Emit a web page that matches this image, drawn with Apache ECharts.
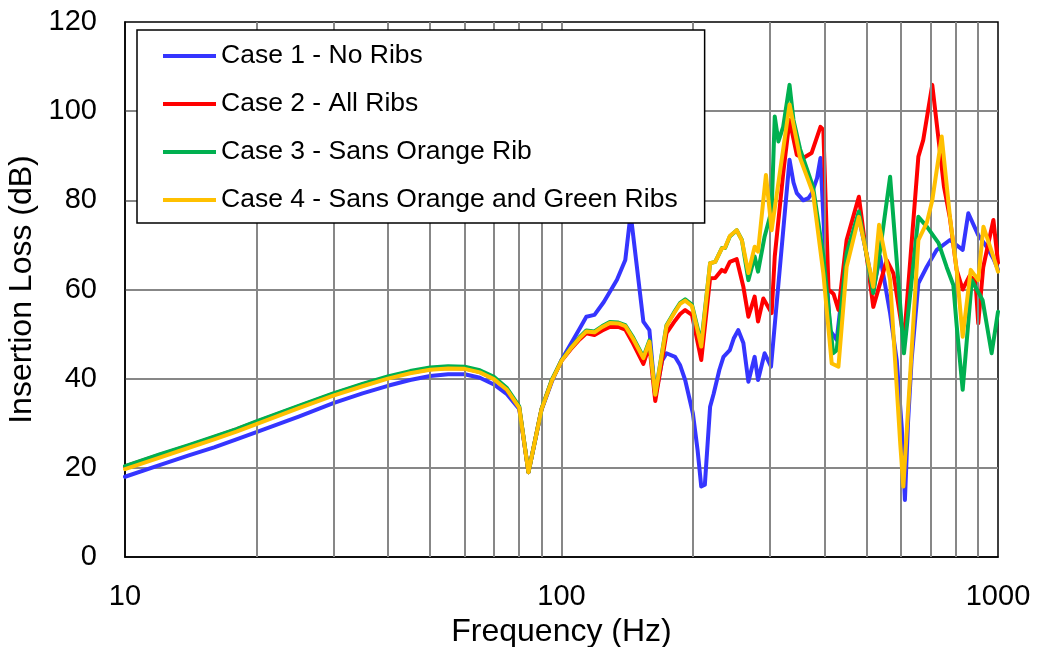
<!DOCTYPE html>
<html>
<head>
<meta charset="utf-8">
<title>Insertion Loss</title>
<script src="https://cdn.jsdelivr.net/npm/echarts@6/dist/echarts.min.js"></script>
<style>
  html, body { margin: 0; padding: 0; background: #fff; }
  #chart { width: 1037px; height: 647px; }
</style>
</head>
<body>
<div id="chart"></div>
<script>
// names of the four cases
var caseNames = ['Case 1 - No Ribs', 'Case 2 - All Ribs', 'Case 3 - Sans Orange Rib', 'Case 4 - Sans Orange and Green Ribs'];
var caseColors = ['#3535FF', '#FF0000', '#00B050', '#FFC000'];

// [frequency Hz, insertion loss dB]
var case1 = [[10,18.0],[12,20.6],[14,22.8],[16,24.6],[18,26.4],[20,28.0],[25,31.5],[30,34.5],[35,36.7],[40,38.4],[45,39.7],[50,40.6],[55,41.0],[60,41.0],[65,40.2],[70,38.7],[75,36.5],[80,33.2],[84,19.0],[90,33.0],[95,39.3],[100,44.2],[105,47.8],[110,51.2],[114,53.9],[119,54.3],[125,57.2],[130,60.0],[134,62.2],[140,66.6],[144,77.0],[154,52.8],[159,50.9],[164,36.0],[170,44.0],[174,45.7],[182,44.9],[187,43.0],[192,39.7],[200,32.2],[205,24.0],[209,15.8],[213,16.2],[219,33.7],[223,36.5],[230,42.0],[235,44.9],[243,46.4],[248,49.0],[254,50.9],[261,48.0],[268,39.3],[277,44.9],[282,39.7],[292,45.7],[302,42.7],[333,89.1],[340,84.0],[346,81.6],[358,80.0],[368,80.5],[374,81.5],[385,85.0],[392,89.5],[400,72.0],[412,50.9],[427,48.7],[450,68.0],[480,76.0],[500,68.0],[518,60.0],[537,67.4],[566,54.7],[586,44.2],[602,29.0],[612,12.8],[622,30.0],[634,44.2],[657,61.4],[687,65.1],[724,68.9],[776,71.1],[830,68.9],[855,77.1],[901,72.2],[942,69.6],[975,67.0],[1000,64.5]];

var case2 = [[10,20.3],[12,22.9],[14,25.0],[16,26.9],[18,28.6],[20,30.3],[25,33.8],[30,36.6],[35,38.7],[40,40.3],[45,41.4],[50,42.1],[55,42.4],[60,42.3],[65,41.5],[70,40.0],[75,37.5],[80,33.6],[84,19.0],[90,33.2],[95,39.6],[100,44.0],[105,46.6],[110,48.8],[114,50.2],[119,49.8],[124,50.8],[129,51.6],[135,51.6],[140,51.0],[146,47.8],[154,43.3],[159,47.3],[164,35.0],[174,50.2],[182,53.0],[187,54.5],[192,55.4],[199,54.3],[209,44.2],[219,62.5],[225,62.6],[233,64.4],[237,64.0],[243,66.2],[252,66.8],[261,60.6],[268,53.9],[277,58.4],[282,52.8],[290,58.0],[303,54.7],[308,67.4],[322,86.0],[333,98.0],[346,90.2],[358,89.5],[374,90.6],[392,96.5],[398,95.8],[409,60.0],[420,59.0],[431,55.4],[450,71.1],[480,80.8],[518,56.1],[556,66.6],[576,63.6],[609,48.5],[657,89.8],[674,93.5],[707,105.9],[752,83.1],[776,76.0],[804,64.4],[830,60.0],[860,63.0],[888,62.0],[901,52.4],[925,65.0],[976,75.6],[1000,66.0]];

var case3 = [[10,20.4],[12,23.0],[14,25.1],[16,27.0],[18,28.7],[20,30.4],[25,33.9],[30,36.7],[35,38.8],[40,40.5],[45,41.7],[50,42.5],[55,42.8],[60,42.7],[65,41.9],[70,40.4],[75,37.9],[80,33.8],[84,19.0],[90,33.2],[95,39.7],[100,44.1],[105,46.9],[110,49.3],[114,50.8],[119,50.6],[124,51.8],[129,52.7],[135,52.6],[140,52.0],[146,49.2],[154,44.9],[159,48.6],[164,36.6],[174,52.0],[182,55.2],[187,57.0],[192,57.8],[199,56.6],[209,48.0],[219,65.9],[225,66.2],[233,69.3],[237,69.3],[243,71.9],[252,73.3],[259,71.1],[268,62.1],[277,67.4],[282,64.0],[292,71.9],[303,77.8],[308,98.8],[314,93.2],[322,96.5],[333,105.9],[340,98.0],[352,91.5],[377,83.0],[398,67.5],[419,45.7],[427,46.4],[450,68.1],[480,77.5],[518,59.2],[537,68.9],[566,85.3],[609,45.7],[657,76.3],[687,74.1],[731,70.4],[763,65.0],[790,61.0],[804,52.0],[830,37.5],[871,62.1],[922,57.6],[967,45.7],[1000,55.0]];

var case4 = [[10,19.7],[12,22.3],[14,24.5],[16,26.4],[18,28.1],[20,29.8],[25,33.4],[30,36.2],[35,38.3],[40,40.0],[45,41.2],[50,42.0],[55,42.3],[60,42.2],[65,41.4],[70,39.9],[75,37.5],[80,33.5],[84,19.0],[90,33.1],[95,39.5],[100,44.0],[105,46.8],[110,49.1],[114,50.6],[119,50.4],[124,51.6],[129,52.5],[135,52.4],[140,51.8],[146,48.9],[154,44.6],[159,48.3],[164,36.4],[174,51.8],[182,55.0],[187,56.8],[192,57.5],[199,56.3],[209,47.2],[219,65.9],[225,66.2],[233,69.2],[237,69.4],[243,72.0],[252,73.3],[259,71.0],[268,63.7],[277,69.6],[282,68.5],[294,85.7],[303,73.3],[333,101.5],[352,89.5],[377,81.6],[398,63.6],[416,43.4],[431,42.7],[450,65.1],[480,76.3],[518,60.6],[534,74.5],[566,62.1],[597,25.5],[607,15.8],[657,71.1],[687,75.0],[707,80.0],[743,94.3],[776,76.3],[804,64.4],[830,49.4],[866,64.4],[901,62.1],[926,74.1],[976,67.4],[1000,64.0]];

// minor vertical grid lines of the log axis
var minorGrid = [20, 30, 40, 50, 60, 70, 80, 90, 200, 300, 400, 500, 600, 700, 800, 900];

var fontFamily = "'Liberation Sans', Arial, sans-serif";
var gridColor = '#878787';

var myChart = echarts.init(document.getElementById('chart'), null, { renderer: 'canvas' });

var caseData = [case1, case2, case3, case4];
var series = [{
    name: 'grid',
    type: 'line',
    data: [],
    z: 1,
    silent: true,
    markLine: {
        silent: true,
        animation: false,
        symbol: ['none', 'none'],
        label: { show: false },
        lineStyle: { color: gridColor, width: 2, type: 'solid' },
        data: minorGrid.map(function (v) { return { xAxis: v }; })
    }
}];
for (var i = 0; i < caseData.length; i++) {
    series.push({
        name: caseNames[i],
        type: 'line',
        data: caseData[i],
        showSymbol: false,
        symbol: 'none',
        smooth: false,
        z: 3 + i,
        color: caseColors[i],
        lineStyle: { width: 4, color: caseColors[i], join: 'round', cap: 'round' }
    });
}

var option = {
    animation: false,
    backgroundColor: '#fff',
    textStyle: { fontFamily: fontFamily, color: '#000' },
    grid: {
        left: 125, right: 39, top: 22, bottom: 90,
        show: true, borderColor: '#000', borderWidth: 1.5, backgroundColor: 'transparent',
        outerBoundsMode: 'none'
    },
    legend: {
        data: caseNames,
        orient: 'vertical',
        left: 137, top: 30,
        padding: [12.5, 27, 9.5, 26],
        backgroundColor: '#fff',
        borderColor: '#000',
        borderWidth: 1.5,
        borderRadius: 0,
        icon: 'rect',
        itemWidth: 53,
        itemHeight: 4,
        itemGap: 21,
        selectedMode: false,
        z: 10,
        textStyle: { fontFamily: fontFamily, fontSize: 26.5, lineHeight: 27, color: '#000' }
    },
    xAxis: {
        type: 'log',
        logBase: 10,
        min: 10,
        max: 1000,
        name: 'Frequency (Hz)',
        nameLocation: 'middle',
        nameGap: 59,
        nameTextStyle: { fontFamily: fontFamily, fontSize: 32, color: '#000' },
        axisLine: { show: true, lineStyle: { color: '#000', width: 1.5 } },
        axisTick: { show: false },
        axisLabel: {
            fontFamily: fontFamily, fontSize: 29, color: '#000', margin: 25,
            formatter: function (v) { return String(Math.round(v)); }
        },
        splitLine: { show: true, showMinLine: false, showMaxLine: false, lineStyle: { color: gridColor, width: 2 } }
    },
    yAxis: {
        type: 'value',
        min: 0,
        max: 120,
        interval: 20,
        name: 'Insertion Loss (dB)',
        nameLocation: 'middle',
        nameGap: 78,
        nameTextStyle: { fontFamily: fontFamily, fontSize: 32, color: '#000' },
        axisLine: { show: true, lineStyle: { color: '#000', width: 1.5 } },
        axisTick: { show: false },
        axisLabel: { fontFamily: fontFamily, fontSize: 29, color: '#000', margin: 28 },
        splitLine: { show: true, showMinLine: false, showMaxLine: false, lineStyle: { color: gridColor, width: 2 } }
    },
    series: series
};

myChart.setOption(option);
</script>
</body>
</html>
